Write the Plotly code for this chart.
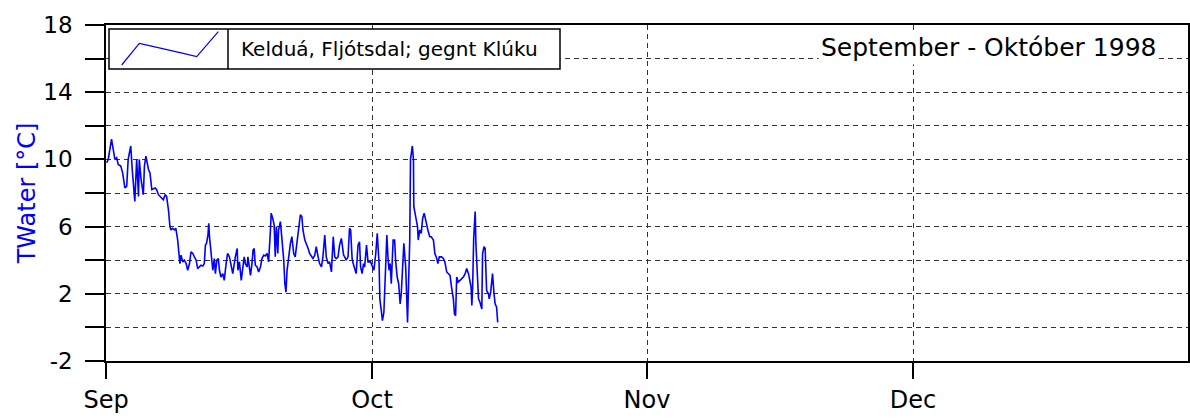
import datetime as dt
import plotly.graph_objects as go

# ---- data ----
start = dt.datetime(1998, 9, 1)
hours = [2, 6, 15, 20, 24, 29, 33, 40, 45, 51, 56, 60, 67, 71, 78, 83, 88, 90, 95, 101, 104, 108, 115, 119, 124, 133, 137, 142, 146, 151, 155, 160, 164, 169, 171,
         173, 176, 180, 185, 189, 194, 198, 200, 203, 208, 212, 217, 221, 226, 230, 235, 239, 244, 248, 253, 257, 262, 266, 269, 272, 276, 278, 280, 282, 285, 289, 293, 296, 300, 304, 307, 311, 316, 320, 325, 329, 334, 338, 343,
         350, 355, 357, 361, 366, 370, 374, 377, 382, 384, 388, 391, 395, 398, 401, 404, 409, 413, 418, 422, 427, 431, 436, 440, 445, 447, 451, 455, 458, 461, 465, 467, 472, 475, 478, 481, 484, 487, 490, 494, 499, 503, 508, 512, 517, 521, 526, 530,
         533, 538, 542, 547, 551, 556, 560, 565, 569, 574, 578, 583, 587, 592, 596, 601, 605, 610, 613, 615, 619, 623, 628, 632, 637, 640, 643, 646, 650, 655, 659, 662, 666, 669, 673, 677, 682, 686, 689, 693, 697, 700, 705, 709,
         716, 721, 725, 730, 734, 739, 741, 745, 748, 752, 755, 760, 763, 766, 769, 772, 777, 781, 784, 788, 792, 796, 799, 804, 806, 811, 814, 816, 819, 822, 824, 829, 832, 833, 838, 843, 845, 849, 853, 857, 861, 865, 868, 871, 876, 880,
         886, 890, 895, 898, 902, 908, 913, 917, 922, 926, 931, 935, 940, 943, 946, 949, 953, 958, 963, 967, 972, 976, 981, 985, 988, 990, 992, 995, 999, 1001, 1005, 1008, 1012, 1017, 1019, 1023, 1026, 1030, 1035, 1037, 1041, 1044, 1046, 1050, 1053, 1057, 1060]
twater = [9.8, 10.0, 11.2, 10.4, 10.0, 10.1, 9.7, 9.6, 9.2, 8.3, 8.4, 10.0, 10.8, 9.4, 7.5, 10.0, 7.8, 10.0, 8.8, 7.9, 9.6, 10.2, 9.4, 9.2, 8.2, 8.3, 8.2, 7.9, 7.8, 7.7, 7.6, 7.9, 7.8, 7.0, 6.1,
          6.0, 5.8, 5.9, 5.8, 5.9, 5.2, 4.0, 3.8, 4.3, 3.9, 4.0, 3.8, 3.4, 3.8, 4.5, 4.4, 4.2, 4.0, 3.5, 3.6, 3.7, 3.65, 3.8, 4.9, 5.0, 5.5, 6.2, 5.4, 5.0, 4.2, 3.4, 4.1, 3.2, 4.0, 4.1, 3.4, 3.0, 3.2, 2.8, 3.8, 4.4, 4.2, 3.8, 3.2,
          4.2, 4.7, 3.4, 3.9, 2.8, 3.4, 4.2, 3.8, 3.6, 4.2, 3.4, 3.1, 3.8, 4.6, 4.7, 3.7, 3.6, 3.3, 3.6, 4.1, 4.3, 4.25, 4.4, 3.9, 5.8, 6.8, 6.5, 6.1, 4.2, 6.0, 4.4, 5.8, 6.3, 5.6, 4.6, 4.0, 2.6, 2.1, 3.4, 4.2, 5.0, 5.4, 4.4, 4.2, 5.2, 6.0, 6.7, 6.6,
          5.8, 5.2, 5.0, 4.7, 4.4, 4.2, 4.1, 4.3, 4.8, 4.2, 3.8, 3.6, 4.2, 5.5, 4.2, 3.8, 3.9, 3.3, 4.8, 5.4, 4.2, 4.1, 4.2, 4.9, 5.3, 4.6, 4.3, 4.2, 4.0, 4.2, 5.9, 5.8, 4.1, 3.8, 3.4, 3.2, 4.9, 5.1, 3.6, 3.2, 3.8, 3.6, 4.9, 3.9,
          3.9, 3.6, 3.4, 4.4, 5.6, 3.8, 1.7, 1.0, 0.4, 0.9, 2.6, 5.5, 4.2, 3.4, 3.8, 2.6, 5.2, 5.2, 3.9, 3.0, 2.6, 1.4, 2.0, 4.4, 5.0, 3.6, 1.4, 0.3, 2.8, 5.2, 10.0, 10.8, 10.0, 7.2, 6.6, 6.0, 5.2, 5.8, 5.6, 6.5, 6.8, 6.4, 5.9, 5.8, 5.4, 5.4,
          5.2, 4.4, 4.1, 3.8, 4.2, 4.2, 4.1, 3.9, 3.3, 3.2, 3.1, 2.4, 1.7, 0.8, 0.7, 3.0, 2.7, 2.8, 2.9, 3.0, 3.2, 3.5, 3.2, 2.6, 2.4, 1.3, 2.3, 5.3, 6.9, 5.0, 2.4, 1.7, 1.5, 1.1, 4.4, 4.8, 4.7, 2.2, 2.0, 1.7, 2.1, 2.9, 3.2, 2.0, 1.4, 1.2, 0.3]
assert len(hours) == len(twater)

series_name = "Kelduá, Fljótsdal; gegnt Klúku"
chart_title = "September - Október 1998"
y_title = "TWater [°C]"
y_tickvals = [-2, 0, 2, 4, 6, 8, 10, 12, 14, 16, 18]
y_ticktext = ["-2", "", "2", "", "6", "", "10", "", "14", "", "18"]
x_tickvals = ["1998-09-01", "1998-10-01", "1998-11-01", "1998-12-01"]
x_ticktext = ["Sep", "Oct", "Nov", "Dec"]
x_range = ["1998-09-01", "1999-01-01"]

times = [start + dt.timedelta(hours=h) for h in hours]

# ---- layout geometry (pixels) ----
W, H = 1190, 419
L, R, T, B = 106, 2, 25, 58
PW, PH = W - L - R, H - T - B


def px(x):
    return (x - L) / PW


def py(y):
    return (H - B - y) / PH


FONT = "DejaVu Sans"
GRID = "#333333"

fig = go.Figure()
fig.add_trace(go.Scatter(x=times, y=twater, mode="lines", name=series_name,
                         line=dict(color="#0000ff", width=1.6), showlegend=False))

shapes = []
# legend box
shapes.append(dict(type="rect", xref="paper", yref="paper",
                   x0=px(109), x1=px(560), y0=py(69), y1=py(29),
                   line=dict(color="black", width=1.5), fillcolor="white", layer="above"))
shapes.append(dict(type="line", xref="paper", yref="paper",
                   x0=px(228), x1=px(228), y0=py(69), y1=py(29),
                   line=dict(color="black", width=1.5), layer="above"))
pts = [(121.7, 65), (139.3, 43.3), (149.3, 45.7), (183.3, 53.3), (196.7, 56.7), (218.3, 31.7)]
path = "M " + " L ".join(f"{px(a):.5f},{py(b):.5f}" for a, b in pts)
shapes.append(dict(type="path", xref="paper", yref="paper", path=path,
                   line=dict(color="#0000ff", width=1.2), layer="above"))

annotations = [
    dict(text=series_name, xref="paper", yref="paper", x=px(239), y=py(49),
         xanchor="left", yanchor="middle", showarrow=False,
         font=dict(family=FONT, size=20, color="black")),
    dict(text=chart_title, xref="paper", yref="paper", x=px(1159), y=py(48),
         xanchor="right", yanchor="middle", showarrow=False, bgcolor="white",
         borderpad=2, font=dict(family=FONT, size=25, color="black")),
]

fig.update_layout(
    width=W, height=H,
    margin=dict(l=L, r=R, t=T, b=B, pad=0, autoexpand=False),
    paper_bgcolor="white", plot_bgcolor="white",
    font=dict(family=FONT, color="black"),
    shapes=shapes, annotations=annotations,
    showlegend=False,
)
fig.update_xaxes(
    type="date", range=x_range, automargin=False,
    tickvals=x_tickvals, ticktext=x_ticktext,
    ticks="outside", ticklen=16, tickwidth=1.5, tickcolor="black",
    ticklabelstandoff=0,
    tickfont=dict(family=FONT, size=24, color="black"),
    showgrid=True, gridcolor=GRID, gridwidth=1, griddash="5px,4px",
    showline=True, linecolor="black", linewidth=1.5, mirror=True,
    zeroline=False,
)
fig.update_yaxes(
    range=[-2, 18], automargin=False,
    tickvals=y_tickvals, ticktext=y_ticktext,
    ticks="outside", ticklen=19, tickwidth=1.5, tickcolor="black",
    ticklabelstandoff=8,
    tickfont=dict(family=FONT, size=23, color="black"),
    showgrid=True, gridcolor=GRID, gridwidth=1, griddash="5px,4px",
    showline=True, linecolor="black", linewidth=1.5, mirror=True,
    zeroline=False,
    title=dict(text=y_title, standoff=1, font=dict(family=FONT, size=24, color="#0000ff")),
)

fig.write_html("out.html", config={"displayModeBar": False},
               post_script="document.body.style.margin='0';document.body.style.overflow='hidden';")
